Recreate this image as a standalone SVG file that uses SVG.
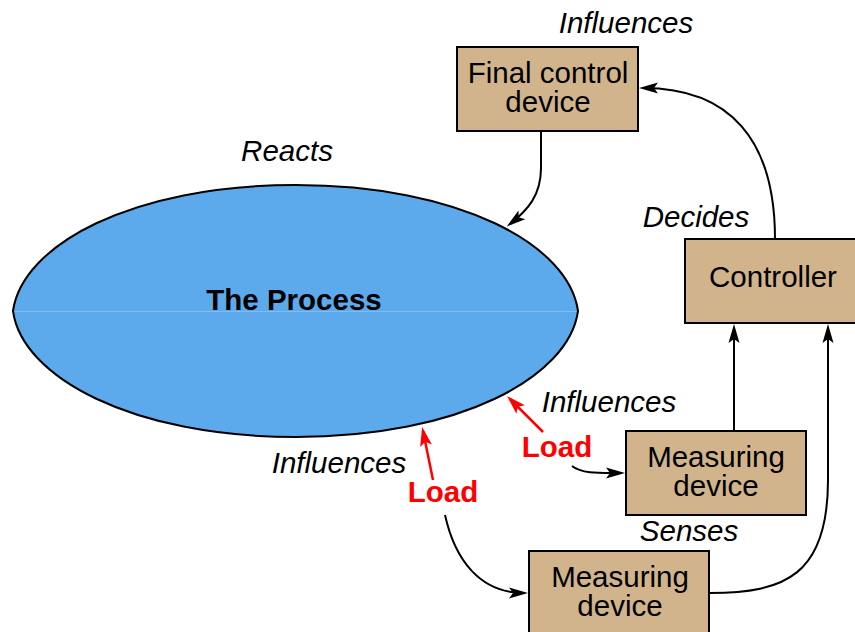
<svg xmlns="http://www.w3.org/2000/svg" width="855" height="632" viewBox="0 0 855 632">
<style>
  text { font-family: "Liberation Sans", Arial, sans-serif; font-size: 29.5px; text-anchor: middle; fill: #000; }
  .it { font-style: italic; }
  .bold { font-weight: bold; }
  .load { font-weight: bold; fill: #ff0000; }
  .box { fill: #d2b48c; stroke: #000; stroke-width: 2; }
  .proc { fill: #5caaeb; stroke: none; }
  .procline { fill: none; stroke: #000; stroke-width: 2; }
  .conn { fill: none; stroke: #000; stroke-width: 2; }
  .red { fill: none; stroke: #ff0000; stroke-width: 2.5; }
</style>
<defs>
  <marker id="ah" viewBox="-21 -7 26 14" refX="-4" refY="0" markerWidth="26" markerHeight="14" markerUnits="userSpaceOnUse" orient="auto">
    <path d="M0,0 L-19,-5.5 L-15,0 L-19,5.5 Z" fill="#000"/>
  </marker>
  <marker id="ahr" viewBox="-21 -7 26 14" refX="-4" refY="0" markerWidth="26" markerHeight="14" markerUnits="userSpaceOnUse" orient="auto">
    <path d="M0,0 L-19,-6 L-15,0 L-19,6 Z" fill="#ff0000"/>
  </marker>
</defs>

<g id="process">
  <path class="proc" d="M13,311 C22,245 132,185 295.5,185 C459.5,185 569,245 578,311 Z"/>
  <path class="proc" d="M13,311 C22,377 132,437 295.5,437 C459.5,437 569,377 578,311 Z"/>
  <line x1="14" y1="311.5" x2="577" y2="311.5" stroke="#7fbdf0" stroke-width="1"/>
  <path class="procline" d="M13,311 C22,245 132,185 295.5,185 C459.5,185 569,245 578,311 C569,377 459.5,437 295.5,437 C132,437 22,377 13,311 Z"/>
  <text class="bold" x="294" y="310">The Process</text>
</g>

<g id="final-control-device">
  <rect class="box" x="457" y="47" width="181" height="84"/>
  <text x="548" y="83">Final control<tspan x="548" dy="29">device</tspan></text>
</g>

<g id="controller">
  <rect class="box" x="685" y="239" width="176" height="84"/>
  <text x="773" y="287">Controller</text>
</g>

<g id="measuring-device-1">
  <rect class="box" x="626" y="431" width="180" height="84"/>
  <text x="716" y="467">Measuring<tspan x="716" dy="29">device</tspan></text>
</g>

<g id="measuring-device-2">
  <rect class="box" x="529" y="551" width="180" height="90"/>
  <text x="620" y="587">Measuring<tspan x="620" dy="29">device</tspan></text>
</g>

<g id="connectors">
  <path class="conn" d="M775,239 C775,140 730,88 643,88" marker-end="url(#ah)"/>
  <path class="conn" d="M541,131 L541,168 C541,195 528,210 510,224" marker-end="url(#ah)"/>
  <path class="conn" d="M734,431 L734,328" marker-end="url(#ah)"/>
  <path class="conn" d="M710,593 C785,593 828,575 828,480 L828,328" marker-end="url(#ah)"/>
  <path class="conn" d="M572,466 C582,474 600,473 621,473" marker-end="url(#ah)"/>
  <path class="conn" d="M445,515 C455,560 480,593 524,593" marker-end="url(#ah)"/>
  <path class="red" d="M543,432 L510,399" marker-end="url(#ahr)"/>
  <path class="red" d="M433,480 L423,431" marker-end="url(#ahr)"/>
</g>

<g id="labels">
  <text class="it" x="626" y="33">Influences</text>
  <text class="it" x="287" y="161">Reacts</text>
  <text class="it" x="696" y="227">Decides</text>
  <text class="it" x="609" y="412">Influences</text>
  <text class="it" x="339" y="473">Influences</text>
  <text class="it" x="689" y="541">Senses</text>
  <text class="load" x="557" y="457">Load</text>
  <text class="load" x="443" y="502">Load</text>
</g>
</svg>
